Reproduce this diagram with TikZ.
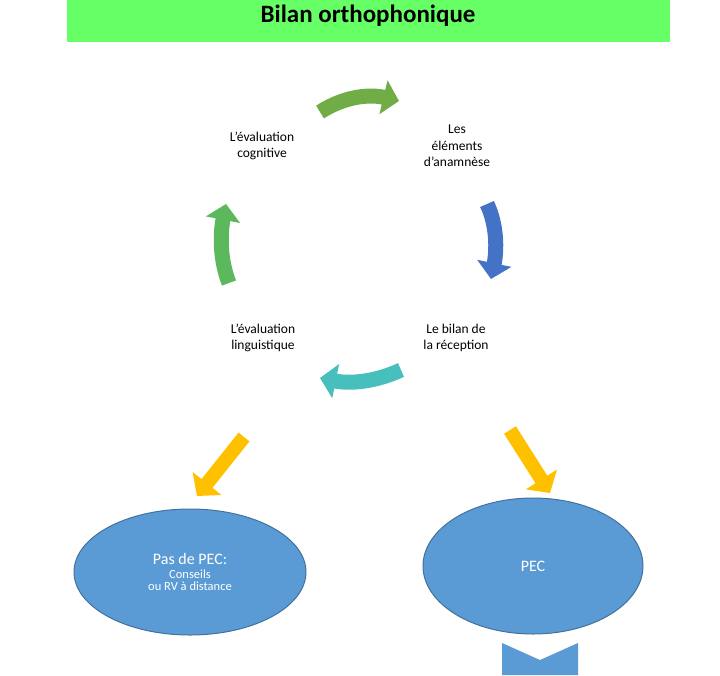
\documentclass[tikz,border=0pt]{standalone}
\usepackage{fontspec}
\setmainfont{Carlito}
\usetikzlibrary{arrows.meta}
\definecolor{titlegreen}{HTML}{66FF66}
\definecolor{agreen}{HTML}{70AD47}
\definecolor{lgreen}{HTML}{5CB85C}
\definecolor{ablue}{HTML}{4472C4}
\definecolor{ateal}{HTML}{46BFBD}
\definecolor{ayellow}{HTML}{FFC000}
\definecolor{eblue}{HTML}{5B9BD5}
\definecolor{eline}{HTML}{41719C}
\tikzset{
  carrow/.style={line width=15pt, -{Triangle[length=16pt,width=34pt]}},
  yarrow/.style={line width=14pt, ayellow, -{Triangle[length=16pt,width=36pt]}},
  lbl/.style={align=center, font=\fontsize{13.5}{16.5}\selectfont},
  oval/.style={ellipse, fill=eblue, draw=eline, line width=1pt, text=white, align=center}
}
\begin{document}
\begin{tikzpicture}[x=1pt,y=-1pt]
\useasboundingbox (0,0) rectangle (720,675);
\fill[titlegreen] (67,0) rectangle (670,42);
\node (title) at (368,16) {\fontsize{25}{30}\selectfont\bfseries Bilan orthophonique};
\node[lbl] (cog) at (262,146) {L’évaluation\\cognitive};
\node[lbl] (ana) at (457,146) {Les\\éléments\\d’anamnèse};
\node[lbl] (rec) at (456,338) {Le bilan de\\la réception};
\node[lbl] (lin) at (263,338) {L’évaluation\\linguistique};
\draw[carrow, agreen] (320,112) .. controls (345,96) and (370,94) .. (399,101);
\draw[carrow, ablue] (487,204) .. controls (497,225) and (497,250) .. (491,279);
\draw[carrow, ateal] (401,370) .. controls (375,382) and (350,384) .. (320,378);
\draw[carrow, lgreen] (229,283) .. controls (220,260) and (220,235) .. (226,204);
\draw[yarrow] (244,437) -- (197,496);
\draw[yarrow] (510,430) -- (550,493);
\path[fill=eblue, draw=eline, line width=1pt] (190,572) ellipse [x radius=116, y radius=63];
\node[text=white, align=center] (pas) at (190,572) {{\fontsize{16}{20}\selectfont Pas de PEC:}\\[2pt]{\fontsize{12.5}{16}\selectfont Conseils}\\{\fontsize{12.5}{16}\selectfont ou RV à distance}};
\path[fill=eblue, draw=eline, line width=1pt] (533,566) ellipse [x radius=110, y radius=68];
\node[text=white] (pec) at (533,566) {\fontsize{16}{20}\selectfont PEC};
\fill[eblue] (502,643) -- (540,660) -- (578,643) -- (578,675) -- (502,675) -- cycle;
\end{tikzpicture}
\end{document}
